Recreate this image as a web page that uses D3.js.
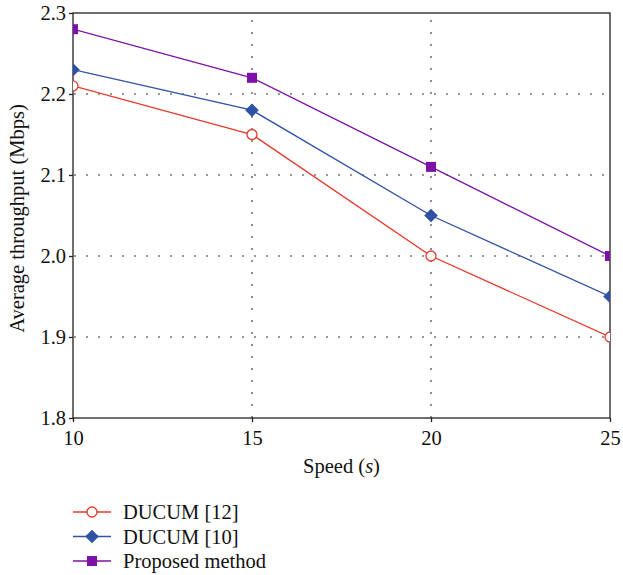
<!DOCTYPE html>
<html><head><meta charset="utf-8">
<script src="https://cdn.jsdelivr.net/npm/d3@7"></script>
<style>body{margin:0;background:#fff;}</style>
</head><body>
<svg id="c" width="623" height="575" style="font-family:'Liberation Serif',serif"></svg>
<script>
const speeds = [10, 15, 20, 25];
const xTicks = [10, 15, 20, 25];
const yTicks = [1.8, 1.9, 2.0, 2.1, 2.2, 2.3];
const ducum12 = [2.21, 2.15, 2.00, 1.90];
const ducum10 = [2.23, 2.18, 2.05, 1.95];
const proposed = [2.28, 2.22, 2.11, 2.00];
const seriesNames = ["DUCUM [12]", "DUCUM [10]", "Proposed method"];

const series = [
  {name: seriesNames[0], values: ducum12, color: "#e8392b", marker: "circle"},
  {name: seriesNames[1], values: ducum10, color: "#2f52a5", marker: "diamond"},
  {name: seriesNames[2], values: proposed, color: "#7d12a8", marker: "square"}
];

const FS = "20.5px";
const FF = "'Liberation Serif', serif";
const svg = d3.select("#c");
const L = 73, R = 610, T = 13, B = 418;
const x = d3.scaleLinear().domain([10, 25]).range([L, R]);
const y = d3.scaleLinear().domain([1.8, 2.3]).range([B, T]);

// grid
const g = svg.append("g");
g.selectAll(".gx").data(xTicks.slice(1, -1)).enter().append("line")
  .attr("x1", d => x(d)).attr("x2", d => x(d)).attr("y1", B).attr("y2", T)
  .attr("stroke", "#333").attr("stroke-width", 1.1).attr("stroke-dasharray", "2,10");
g.selectAll(".gy").data(yTicks.slice(1, -1)).enter().append("line")
  .attr("y1", d => y(d)).attr("y2", d => y(d)).attr("x1", L + 1).attr("x2", R)
  .attr("stroke", "#333").attr("stroke-width", 1.1).attr("stroke-dasharray", "2,10");

// frame
svg.append("rect").attr("x", L).attr("y", T).attr("width", R - L).attr("height", B - T)
  .attr("fill", "none").attr("stroke", "#222").attr("stroke-width", 1.3);

// axes
const xa = svg.append("g").attr("transform", `translate(0,${B})`)
  .call(d3.axisBottom(x).tickValues(xTicks).tickSize(4).tickSizeOuter(0).tickFormat(d3.format("d")));
const ya = svg.append("g").attr("transform", `translate(${L},0)`)
  .call(d3.axisLeft(y).tickValues(yTicks).tickSize(4).tickSizeOuter(0).tickFormat(d3.format(".1f")));
[xa, ya].forEach(a => {
  a.attr("font-family", null).attr("font-size", null);
  a.select(".domain").remove();
  a.selectAll("line").attr("stroke", "#222").attr("stroke-width", 1.3);
  a.selectAll("text").attr("fill", "#111").style("font-size", FS).style("font-family", FF);
});
xa.selectAll("text").attr("dy", null).attr("y", 27);
ya.selectAll("text").attr("x", -7).attr("dy", "0.34em");

// titles
svg.append("text").attr("x", (L + R) / 2).attr("y", 473).attr("text-anchor", "middle")
  .style("font-size", FS).style("font-family", FF).attr("fill", "#111")
  .html('Speed (<tspan font-style="italic">s</tspan>)');
svg.append("text").attr("transform", `translate(24,${(T + B) / 2 + 3}) rotate(-90)`)
  .attr("text-anchor", "middle").style("font-size", FS).style("font-family", FF).attr("fill", "#111")
  .text("Average throughput (Mbps)");

function drawMarker(sel, m, color, cx, cy) {
  if (m === "circle") {
    sel.append("circle").attr("cx", cx).attr("cy", cy).attr("r", 5)
      .attr("fill", "#fff").attr("stroke", color).attr("stroke-width", 1.3);
  } else if (m === "diamond") {
    const s = 6.8;
    sel.append("path").attr("d", `M${cx},${cy - s}L${cx + s},${cy}L${cx},${cy + s}L${cx - s},${cy}Z`)
      .attr("fill", color);
  } else {
    const s = 5;
    sel.append("rect").attr("x", cx - s).attr("y", cy - s).attr("width", 2 * s).attr("height", 2 * s)
      .attr("fill", color);
  }
}

svg.append("clipPath").attr("id", "clp").append("rect")
  .attr("x", L).attr("y", T - 10).attr("width", R - L).attr("height", B - T + 20);

const line = d3.line().x((d, i) => x(speeds[i])).y(d => y(d));
series.forEach(s => {
  const gs = svg.append("g").attr("clip-path", "url(#clp)");
  gs.append("path").datum(s.values).attr("d", line).attr("fill", "none")
    .attr("stroke", s.color).attr("stroke-width", 1.3);
  s.values.forEach((v, i) => drawMarker(gs, s.marker, s.color, x(speeds[i]), y(v)));
});

// legend
const lg = svg.append("g");
series.forEach((s, i) => {
  const ly = 512 + i * 24.5;
  lg.append("line").attr("x1", 73).attr("x2", 111).attr("y1", ly).attr("y2", ly)
    .attr("stroke", s.color).attr("stroke-width", 1.3);
  drawMarker(lg, s.marker, s.color, 92, ly);
  lg.append("text").attr("x", 123).attr("y", ly).attr("dy", "0.35em")
    .style("font-size", FS).style("font-family", FF).attr("fill", "#111").text(s.name);
});
</script>
</body></html>
